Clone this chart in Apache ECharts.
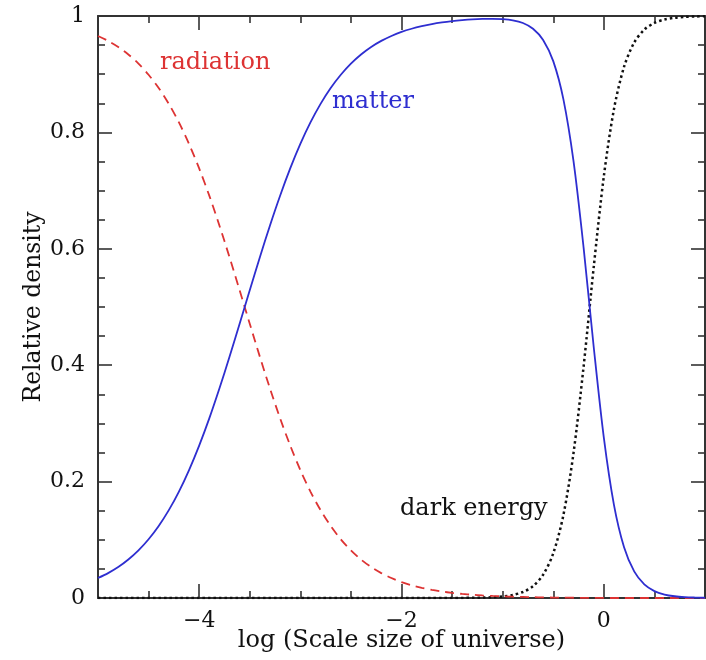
<!DOCTYPE html>
<html>
<head>
<meta charset="utf-8">
<script src="https://cdn.jsdelivr.net/npm/echarts@6/dist/echarts.min.js"></script>
<style>
html,body{margin:0;padding:0;background:#fff;}
#chart{width:706px;height:660px;}
</style>
</head>
<body>
<div id="chart"></div>
<script>
// log10 of scale factor
var xs = [-5.0,-4.9,-4.8,-4.7,-4.6,-4.5,-4.4,-4.3,-4.2,-4.1,
          -4.0,-3.9,-3.8,-3.7,-3.6,-3.5,-3.4,-3.3,-3.2,-3.1,
          -3.0,-2.9,-2.8,-2.7,-2.6,-2.5,-2.4,-2.3,-2.2,-2.1,
          -2.0,-1.9,-1.8,-1.7,-1.6,-1.5,-1.4,-1.3,-1.2,-1.1,
          -1.0,-0.9,-0.8,-0.7,-0.6,-0.5,-0.4,-0.3,-0.2,-0.1,
           0.0, 0.1, 0.2, 0.3, 0.4, 0.5, 0.6, 0.7, 0.8, 0.9, 1.0];

var radiation = [0.9657,0.9572,0.9468,0.9339,0.9182,0.8991,0.8762,0.8490,0.8171,0.7801,
                 0.7381,0.6913,0.6400,0.5856,0.5287,0.4713,0.4145,0.3599,0.3088,0.2619,
                 0.2198,0.1829,0.1510,0.1238,0.1009,0.0818,0.0661,0.0532,0.0428,0.0343,
                 0.0274,0.0219,0.0175,0.0139,0.0111,0.0088,0.0070,0.0056,0.0044,0.0035,
                 0.0028,0.0022,0.0018,0.0014,0.0011,0.0008,0.0006,0.0004,0.0003,0.0002,
                 0.0001,0,0,0,0,0,0,0,0,0,0];

var matter = [0.0343,0.0428,0.0532,0.0661,0.0818,0.1009,0.1238,0.1510,0.1829,0.2199,
              0.2619,0.3087,0.3600,0.4144,0.4713,0.5287,0.5855,0.6401,0.6912,0.7381,
              0.7802,0.8171,0.8490,0.8762,0.8991,0.9182,0.9339,0.9468,0.9572,0.9657,
              0.9726,0.9781,0.9825,0.9861,0.9889,0.9911,0.9928,0.9941,0.9949,0.9952,
              0.9946,0.9926,0.9879,0.9782,0.9589,0.9224,0.8571,0.7509,0.6020,0.4313,
              0.2755,0.1601,0.0872,0.0457,0.0234,0.0119,0.0060,0.0030,0.0015,0.0008,0.0004];

var darkEnergy = [0,0,0,0,0,0,0,0,0,0,
                  0,0,0,0,0,0,0,0,0,0,
                  0,0,0,0,0,0,0,0,0,0,
                  0,0,0,0,0,0.0001,0.0002,0.0003,0.0007,0.0013,
                  0.0026,0.0052,0.0103,0.0204,0.0400,0.0767,0.1423,0.2486,0.3977,0.5685,
                  0.7245,0.8399,0.9128,0.9543,0.9766,0.9881,0.9940,0.9970,0.9985,0.9992,0.9996];

var xMajorTicks = [-4, -2, 0];
var xMinorTicks = [-4.5, -3.5, -3, -2.5, -1.5, -1, -0.5, 0.5];
var seriesNames = ['radiation', 'matter', 'dark energy'];
var xTitle = 'log (Scale size of universe)';
var yTitle = 'Relative density';

function pairs(ys) { return xs.map(function (x, i) { return [x, ys[i]]; }); }
function fmtX(v) { return v < 0 ? '\u2212' + Math.abs(v) : String(v); }

var FONT = 'DejaVu Serif';
var AX = '#333333';
var RED = '#dd3333', BLUE = '#2e2ed0', BLACK = '#111111';

function xAxisDef(pos, ticks, len, labels, line) {
  return {
    type: 'value', position: pos, min: -5, max: 1,
    axisLine: { show: line, onZero: false, lineStyle: { color: AX, width: 2 } },
    axisTick: { show: true, inside: true, length: len, customValues: ticks, lineStyle: { color: AX, width: 1.6 } },
    axisLabel: labels ? { show: true, customValues: ticks, formatter: fmtX, margin: 12,
                          fontFamily: FONT, fontSize: 22, color: '#111' } : { show: false },
    splitLine: { show: false },
    name: (labels ? xTitle : ''), nameLocation: 'middle', nameGap: 31, nameMoveOverlap: false,
    nameTextStyle: { fontFamily: FONT, fontSize: 24, color: '#111' }
  };
}
function yAxisDef(pos, labels) {
  return {
    type: 'value', position: pos, min: 0, max: 1, interval: 0.2,
    axisLine: { show: true, onZero: false, lineStyle: { color: AX, width: 2 } },
    axisTick: { show: true, inside: true, length: 14, lineStyle: { color: AX, width: 1.6 } },
    minorTick: { show: true, splitNumber: 4, length: 7, lineStyle: { color: AX, width: 1.6 } },
    axisLabel: labels ? { show: true, margin: 13, fontFamily: FONT, fontSize: 22, color: '#111' } : { show: false },
    splitLine: { show: false },
    name: (labels ? yTitle : ''), nameLocation: 'middle', nameGap: 52, nameRotate: 90, nameMoveOverlap: false,
    nameTextStyle: { fontFamily: FONT, fontSize: 23.5, color: '#111' }
  };
}

var chart = echarts.init(document.getElementById('chart'), null, { renderer: 'canvas' });
chart.setOption({
  animation: false,
  backgroundColor: '#fff',
  grid: { left: 98, right: 1, top: 16, bottom: 62, containLabel: false },
  xAxis: [
    xAxisDef('bottom', xMajorTicks, 14, true, true),
    xAxisDef('bottom', xMinorTicks, 7, false, false),
    xAxisDef('top', xMajorTicks, 14, false, true),
    xAxisDef('top', xMinorTicks, 7, false, false)
  ],
  yAxis: [ yAxisDef('left', true), yAxisDef('right', false) ],
  series: [
    { name: seriesNames[0], type: 'line', data: pairs(radiation), showSymbol: false, symbol: 'none',
      smooth: 0.3,
      lineStyle: { color: RED, width: 1.8, type: [9, 6] }, z: 3 },
    { name: seriesNames[1], type: 'line', data: pairs(matter), showSymbol: false, symbol: 'none',
      smooth: 0.3,
      lineStyle: { color: BLUE, width: 1.8 }, z: 4 },
    { name: seriesNames[2], type: 'line', data: pairs(darkEnergy), showSymbol: false, symbol: 'none',
      smooth: 0.3,
      lineStyle: { color: BLACK, width: 2.5, type: [2.5, 3] }, z: 2 }
  ],
  graphic: [
    { type: 'text', left: 160, top: 51, style: { text: seriesNames[0], fill: RED, font: '24px "DejaVu Serif"' } },
    { type: 'text', left: 332, top: 90, style: { text: seriesNames[1], fill: BLUE, font: '24px "DejaVu Serif"' } },
    { type: 'text', left: 400, top: 497, style: { text: seriesNames[2], fill: BLACK, font: '24px "DejaVu Serif"' } }
  ]
});
</script>
</body>
</html>
